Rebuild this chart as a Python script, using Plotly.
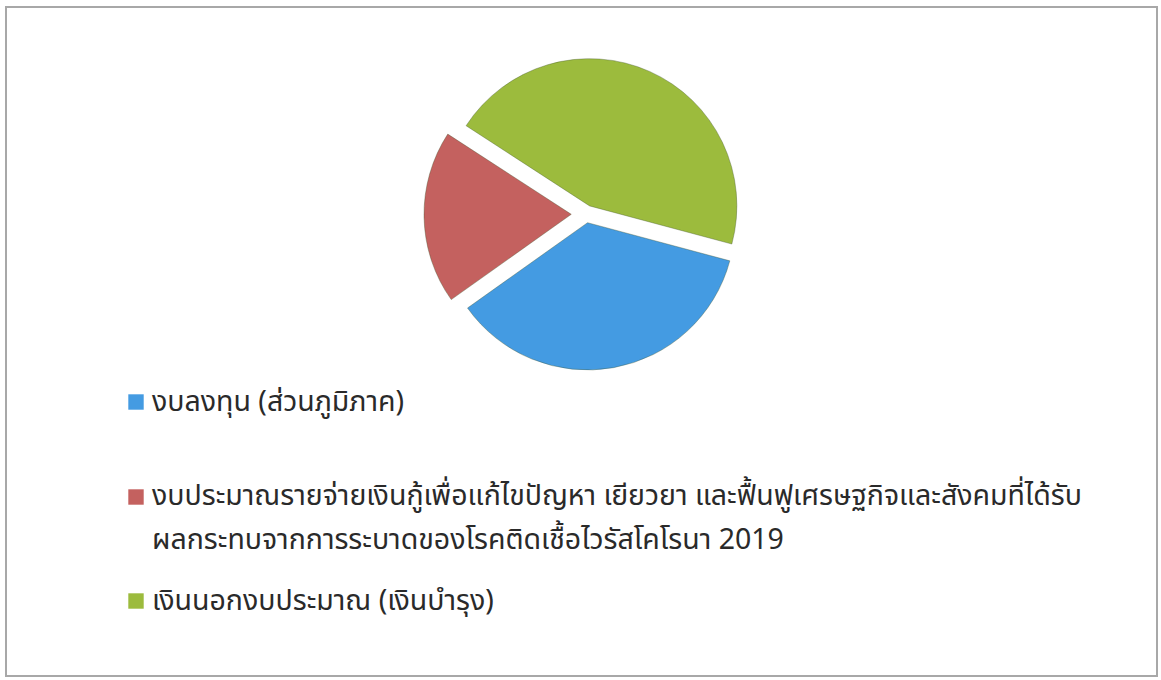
import plotly.graph_objects as go

W, H = 1161, 680

labels = [
    "งบลงทุน (ส่วนภูมิภาค)",
    "งบประมาณรายจ่ายเงินกู้เพื่อแก้ไขปัญหา เยียวยา และฟื้นฟูเศรษฐกิจและสังคมที่ได้รับ<br>ผลกระทบจากการระบาดของโรคติดเชื้อไวรัสโคโรนา 2019",
    "เงินนอกงบประมาณ (เงินบำรุง)",
]
values = [36, 19, 45]
colors = ["#449be2", "#c4615f", "#9cbb3d"]

FONT = "Noto Sans Thai, Tahoma, Loma, Garuda, sans-serif"

fig = go.Figure()
fig.add_trace(go.Pie(
    labels=labels,
    values=values,
    sort=False,
    direction="clockwise",
    rotation=105,
    pull=[0.06, 0.1, 0.06],
    marker=dict(colors=colors, line=dict(color="rgba(60,80,40,0.35)", width=1)),
    textinfo="none",
    hoverinfo="label+percent",
    showlegend=False,
    domain=dict(x=[424 / W, 748 / W], y=[1 - 376 / H, 1 - 52 / H]),
))

def px(x):
    return x / W

def py(y):
    return 1 - y / H

# Manual legend (squares + text) below the pie
legend_rows = [
    (0, [402]),
    (1, [497, 540]),
    (2, [601]),
]
shapes = []
annotations = []
for idx, ys in legend_rows:
    cy = ys[0]
    shapes.append(dict(
        type="rect", xref="paper", yref="paper",
        x0=px(128), x1=px(144), y0=py(cy + 8), y1=py(cy - 8),
        fillcolor=colors[idx], line=dict(color="rgba(255,255,255,0.6)", width=1),
    ))
    parts = labels[idx].split("<br>")
    for line, y in zip(parts, ys):
        annotations.append(dict(
            text=line, xref="paper", yref="paper",
            x=px(150), y=py(y), xanchor="left", yanchor="middle",
            showarrow=False, font=dict(family=FONT, size=28.5, color="#2a2a2a"),
        ))

# outer frame
shapes.append(dict(
    type="rect", xref="paper", yref="paper",
    x0=px(6), x1=px(1157), y0=py(676), y1=py(7),
    line=dict(color="#a8a8a8", width=2), fillcolor="rgba(0,0,0,0)",
))

fig.update_layout(
    width=W, height=H,
    margin=dict(l=0, r=0, t=0, b=0),
    paper_bgcolor="white",
    plot_bgcolor="white",
    shapes=shapes,
    annotations=annotations,
)

fig.write_html(
    "out.html",
    config={"displayModeBar": False},
    post_script="document.body.style.margin='0';document.body.style.overflow='hidden';",
)
